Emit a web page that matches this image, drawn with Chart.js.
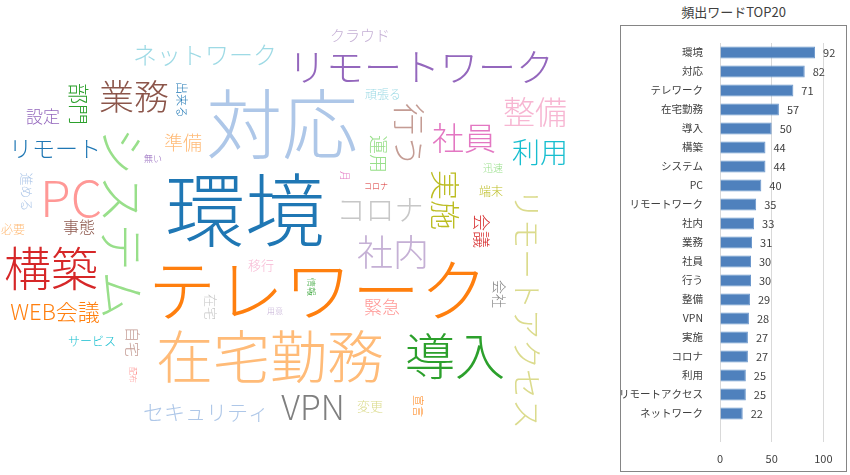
<!DOCTYPE html>
<html lang="ja">
<head>
<meta charset="utf-8">
<title>頻出ワード</title>
<script src="https://cdn.jsdelivr.net/npm/chart.js@4/dist/chart.umd.min.js"></script>
<style>
    body { margin: 0; background: #fff; font-family: "Noto Sans CJK JP", sans-serif; }
    #cloudBox { position: absolute; left: 0; top: 0; width: 600px; height: 475px; }
    #barTitle { position: absolute; left: 620px; top: 2px; width: 227px; text-align: center; font-size: 13px; color: #404040; }
    #barBox { position: absolute; left: 620px; top: 25px; width: 225px; height: 445px; border: 1px solid #858585; }
</style>
</head>
<body>
<div id="cloudBox"><canvas id="chartCloud"></canvas></div>
<div id="barTitle">頻出ワードTOP20</div>
<div id="barBox"><canvas id="chartTop20"></canvas></div>
<script>
// 頻出ワード TOP20
const topWords = ['環境', '対応', 'テレワーク', '在宅勤務', '導入', '構築', 'システム', 'PC', 'リモートワーク', '社内',
    '業務', '社員', '行う', '整備', 'VPN', '実施', 'コロナ', '利用', 'リモートアクセス', 'ネットワーク'];
const topCounts = [92, 82, 71, 57, 50, 44, 44, 40, 35, 33, 31, 30, 30, 29, 28, 27, 27, 25, 25, 22];
const xTicks = [0, 50, 100];

// ワードクラウドの単語
const cloudWords = ['環境', '対応', 'テレワーク', '在宅勤務', '導入', '構築', 'システム', 'PC', 'リモートワーク', '社内',
    '業務', '社員', '行う', '整備', 'VPN', '実施', 'コロナ', '利用', 'リモートアクセス', 'ネットワーク',
    'リモート', 'WEB会議', '部門', '設定', '準備', '事態', '必要', '進める', '無い', '出来る',
    'クラウド', '頑張る', '運用', '月', 'コロナ', '迅速', '端末', '会議', '会社', '緊急',
    '移行', '情報', '在宅', '用意', '自宅', '配布', 'サービス', 'セキュリティ', '変更', '宣言'];

// レイアウト (中心位置・文字サイズ・向き・色)
const cloudX = [245, 282, 318, 270, 455, 51, 122, 71, 421, 393,
    134, 464, 409, 535, 313, 445, 380, 540, 527, 205,
    55, 55, 79, 43, 183, 79, 13, 27, 153, 182,
    360, 383, 378, 345, 376, 493, 491, 481, 499, 382,
    261, 311, 211, 275, 133, 133, 92, 206, 370, 418];
const cloudY = [210, 124, 290, 356, 356, 268, 223, 198, 67, 252,
    97, 138, 135, 112, 407, 200, 210, 152, 309, 55,
    148, 312, 104, 117, 143, 227, 229, 192, 159, 100,
    35, 94, 154, 176, 186, 168, 191, 231, 294, 307,
    265, 287, 307, 311, 342, 375, 341, 412, 406, 406];
const cloudSize = [80, 76, 68, 57, 50, 47, 48, 50, 38, 36,
    35, 32, 32, 32, 34, 30, 29, 28, 30, 24,
    23, 22, 21, 17, 19, 16, 12, 13, 9, 12,
    15, 12, 19, 10, 8, 10, 12, 17, 14, 18,
    13, 9, 13, 8, 15, 8, 12, 21, 13, 11];
const cloudRotate = [0, 0, 0, 0, 0, 0, 1, 0, 0, 0,
    0, 0, 1, 0, 0, 1, 0, 0, 1, 0,
    0, 0, 1, 0, 0, 0, 0, 1, 0, 1,
    0, 0, 1, 1, 0, 0, 0, 1, 1, 0,
    0, 1, 1, 0, 1, 1, 0, 0, 0, 1];
const cloudColor = ['#1f77b4', '#aec7e8', '#ff7f0e', '#ffbb78', '#2ca02c', '#d62728', '#98df8a', '#ff9896', '#9467bd', '#c5b0d5',
    '#8c564b', '#e377c2', '#c49c94', '#f7b6d2', '#7f7f7f', '#bcbd22', '#c7c7c7', '#17becf', '#dbdb8d', '#9edae5',
    '#1f77b4', '#ff7f0e', '#2ca02c', '#9467bd', '#ffbb78', '#8c564b', '#ffbb78', '#aec7e8', '#9467bd', '#1f77b4',
    '#c5b0d5', '#9edae5', '#98df8a', '#e377c2', '#d62728', '#98df8a', '#bcbd22', '#d62728', '#7f7f7f', '#ff9896',
    '#f7b6d2', '#2ca02c', '#c7c7c7', '#c5b0d5', '#c49c94', '#ff9896', '#17becf', '#aec7e8', '#dbdb8d', '#ff7f0e'];

const cjkFont = '"Noto Sans CJK JP", sans-serif';

// 単語を点の位置に描く
const cloudText = {
    id: 'cloudText',
    afterDatasetsDraw: function (chart) {
        const ctx = chart.ctx;
        const meta = chart.getDatasetMeta(0);
        meta.data.forEach(function (pt, i) {
            ctx.save();
            ctx.translate(pt.x, pt.y);
            if (cloudRotate[i]) {
                ctx.rotate(Math.PI / 2);
            }
            ctx.font = '300 ' + cloudSize[i] + 'px ' + cjkFont;
            ctx.fillStyle = cloudColor[i];
            ctx.textAlign = 'center';
            ctx.textBaseline = 'middle';
            ctx.fillText(cloudWords[i], 0, 0);
            ctx.restore();
        });
    }
};

// 棒の右に件数
const barValues = {
    id: 'barValues',
    afterDatasetsDraw: function (chart) {
        const ctx = chart.ctx;
        const meta = chart.getDatasetMeta(0);
        ctx.save();
        ctx.font = '11px ' + cjkFont;
        ctx.fillStyle = '#404040';
        ctx.textAlign = 'left';
        ctx.textBaseline = 'middle';
        meta.data.forEach(function (bar, i) {
            if (topCounts[i] == null) return;
            ctx.fillText(topCounts[i], bar.x + 8, bar.y);
        });
        ctx.restore();
    }
};

new Chart(document.getElementById('chartCloud'), {
    type: 'scatter',
    data: {
        datasets: [{
            data: cloudWords.map(function (w, i) { return { x: cloudX[i], y: cloudY[i] }; }),
            pointRadius: 0,
            pointHoverRadius: 0
        }]
    },
    options: {
        responsive: true,
        maintainAspectRatio: false,
        animation: false,
        layout: { padding: 0 },
        plugins: { legend: { display: false }, tooltip: { enabled: false } },
        scales: {
            x: { display: false, min: 0, max: 600 },
            y: { display: false, min: 0, max: 475, reverse: true }
        }
    },
    plugins: [cloudText]
});

new Chart(document.getElementById('chartTop20'), {
    type: 'bar',
    data: {
        labels: topWords.concat(['']),
        datasets: [{
            data: topCounts.concat([null]),
            backgroundColor: '#4f81bd',
            borderColor: '#6b97cc',
            borderWidth: 1,
            barPercentage: 0.63,
            categoryPercentage: 1
        }]
    },
    options: {
        indexAxis: 'y',
        responsive: true,
        maintainAspectRatio: false,
        animation: false,
        layout: { padding: { top: 17, right: 2, bottom: 2, left: 0 } },
        plugins: { legend: { display: false }, tooltip: { enabled: false } },
        scales: {
            x: {
                min: 0,
                max: 120,
                afterBuildTicks: function (axis) {
                    axis.ticks = xTicks.map(function (v) { return { value: v }; });
                },
                afterFit: function (axis) { axis.height = 27; },
                grid: { color: '#d9d9d9', drawTicks: false },
                border: { display: false },
                ticks: { padding: 10, color: '#404040', font: { size: 11, family: cjkFont } }
            },
            y: {
                afterFit: function (axis) { axis.width = 99; },
                grid: { display: false },
                border: { display: false },
                ticks: { padding: 9, color: '#404040', autoSkip: false, font: { size: 10.5, family: cjkFont } }
            }
        }
    },
    plugins: [barValues]
});
</script>
</body>
</html>
